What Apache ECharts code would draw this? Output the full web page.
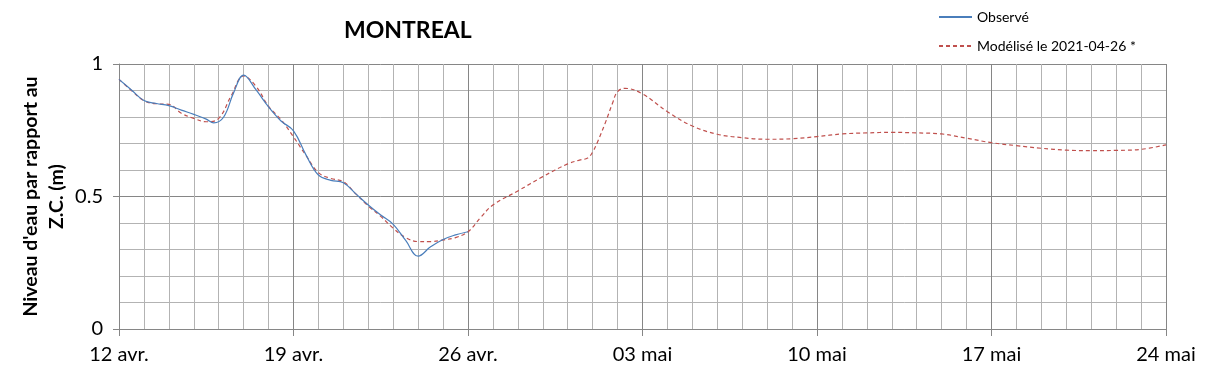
<!DOCTYPE html>
<html>
<head>
<meta charset="utf-8">
<script src="https://cdn.jsdelivr.net/npm/echarts@6/dist/echarts.min.js"></script>
<style>html,body{margin:0;padding:0;background:#fff}#c{width:1209px;height:378px}</style>
</head>
<body>
<div id="c"></div>
<script>
// Days since 12 avr. 2021
const tickLabels = ['12 avr.', '19 avr.', '26 avr.', '03 mai', '10 mai', '17 mai', '24 mai'];

const obsDays = [0, 0.5, 1, 1.5, 2, 2.5, 3, 3.5, 3.8, 4.2, 4.6, 5, 5.5, 6, 6.5, 7, 7.5, 8, 8.5, 9, 9.5, 10, 10.5, 11, 11.5, 12, 12.5, 13, 13.5, 14];
const obsVals = [0.942, 0.902, 0.862, 0.851, 0.843, 0.826, 0.81, 0.792, 0.778, 0.80, 0.892, 0.958, 0.902, 0.838, 0.785, 0.748, 0.657, 0.581, 0.561, 0.552, 0.51, 0.468, 0.43, 0.395, 0.334, 0.275, 0.31, 0.338, 0.355, 0.367];

const modDays = [0, 0.5, 1, 1.5, 2, 2.5, 3, 3.5, 4, 4.5, 5, 5.5, 6, 6.5, 7, 7.5, 8, 8.5, 9, 9.5, 10, 10.5, 11, 11.5, 12, 12.5, 13, 13.5, 14, 14.5, 15, 16, 17, 18, 18.5, 18.8, 19, 19.2, 19.5, 19.8, 20, 20.3, 21, 22, 23, 24, 25, 26, 27, 28, 29, 30, 31, 32, 33, 34, 35, 36, 37, 38, 39, 40, 41, 42];
const modVals = [0.942, 0.9, 0.862, 0.85, 0.848, 0.814, 0.795, 0.782, 0.795, 0.88, 0.955, 0.915, 0.84, 0.79, 0.725, 0.655, 0.59, 0.568, 0.556, 0.51, 0.464, 0.425, 0.38, 0.345, 0.33, 0.33, 0.336, 0.345, 0.367, 0.42, 0.468, 0.521, 0.575, 0.623, 0.638, 0.645, 0.668, 0.707, 0.776, 0.853, 0.896, 0.908, 0.887, 0.82, 0.766, 0.735, 0.722, 0.716, 0.718, 0.726, 0.736, 0.74, 0.742, 0.74, 0.736, 0.72, 0.703, 0.692, 0.682, 0.675, 0.673, 0.674, 0.678, 0.695];

const FONT = 'Lato, "Open Sans", sans-serif';
const chart = echarts.init(document.getElementById('c'), null, {renderer: 'canvas'});
chart.setOption({
  animation: false,
  backgroundColor: '#fff',
  title: {
    text: 'MONTREAL', left: 339, top: 14,
    textStyle: {fontFamily: FONT, fontWeight: 'bold', fontSize: 23, color: '#000'}
  },
  legend: {
    orient: 'vertical', left: 933, top: 5, itemWidth: 33, itemHeight: 10, itemGap: 15,
    textStyle: {fontFamily: FONT, fontSize: 14, color: '#000'},
    itemStyle: {opacity: 0},
    data: ['Observé', 'Modélisé le 2021-04-26 *']
  },
  grid: {left: 119, right: 43, top: 64, bottom: 49, containLabel: false, outerBoundsMode: 'none'},
  xAxis: {
    type: 'value', min: 0, max: 42, interval: 7,
    axisLine: {show: true, lineStyle: {color: '#868686', width: 1}},
    axisTick: {show: true, length: 7, lineStyle: {color: '#868686'}},
    axisLabel: {
      fontFamily: FONT, fontSize: 20, color: '#000', margin: 16,
      formatter: v => tickLabels[Math.round(v / 7)]
    },
    splitLine: {show: true, lineStyle: {color: '#868686', width: 1}},
    minorTick: {show: false, splitNumber: 7},
    minorSplitLine: {show: true, lineStyle: {color: '#b3b3b3', width: 1}}
  },
  yAxis: {
    type: 'value', min: 0, max: 1, interval: 0.5,
    name: "Niveau d'eau par rapport au\nZ.C. (m)",
    nameLocation: 'middle', nameGap: 49, nameMoveOverlap: false,
    nameTextStyle: {fontFamily: FONT, fontWeight: 'bold', fontSize: 19.5, color: '#000', lineHeight: 26},
    axisLine: {show: true, lineStyle: {color: '#868686', width: 1}},
    axisTick: {show: true, length: 6, lineStyle: {color: '#868686'}},
    axisLabel: {fontFamily: FONT, fontSize: 20, color: '#000', margin: 16,
      formatter: v => (v === 0 ? '0' : v === 1 ? '1' : String(v))},
    splitLine: {show: true, lineStyle: {color: '#868686', width: 1}},
    minorTick: {show: false, splitNumber: 5},
    minorSplitLine: {show: true, lineStyle: {color: '#b3b3b3', width: 1}}
  },
  series: [
    {
      name: 'Observé', type: 'line', smooth: 0.4, showSymbol: false, symbol: 'none', z: 3,
      lineStyle: {color: '#4a7ebb', width: 1.2},
      itemStyle: {color: '#4a7ebb'},
      data: obsDays.map((d, i) => [d, obsVals[i]])
    },
    {
      name: 'Modélisé le 2021-04-26 *', type: 'line', smooth: 0.4, showSymbol: false, symbol: 'none', z: 2,
      lineStyle: {color: '#c0504d', width: 1.2, type: [4, 3]},
      itemStyle: {color: '#c0504d'},
      data: modDays.map((d, i) => [d, modVals[i]])
    }
  ]
});
</script>
</body>
</html>
